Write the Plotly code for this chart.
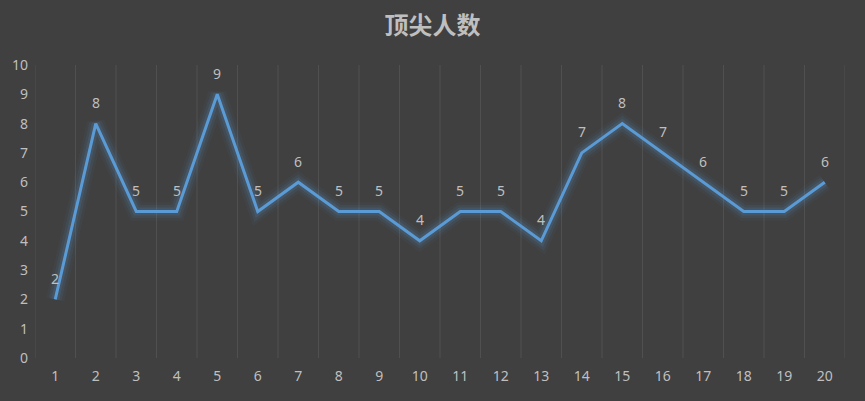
import plotly.graph_objects as go

# category labels (x axis) and values
rounds = list(range(1, 21))
top_counts = [2, 8, 5, 5, 9, 5, 6, 5, 5, 4, 5, 5, 4, 7, 8, 7, 6, 5, 5, 6]
y_ticks = list(range(0, 11))

bg = "#404040"
text_col = "#bfbfbf"
line_col = "#5b9bd5"

fig = go.Figure()

# soft glow under the line, a few wide translucent strokes
for w, a in [(18, 0.05), (13, 0.08), (8, 0.14)]:
    fig.add_trace(go.Scatter(
        x=rounds, y=top_counts, mode="lines",
        line=dict(color=f"rgba(91,155,213,{a})", width=w),
        hoverinfo="skip", showlegend=False,
    ))

fig.add_trace(go.Scatter(
    x=rounds, y=top_counts, mode="lines",
    line=dict(color=line_col, width=3),
    showlegend=False,
))

# data labels sitting a bit above each point
for r, v in zip(rounds, top_counts):
    fig.add_annotation(x=r, y=v, text=str(v), showarrow=False, yshift=21,
                       font=dict(color=text_col, size=14, family="Noto Sans"))

# vertical separators between categories
for b in range(0, 21):
    fig.add_shape(type="line", xref="x", yref="paper",
                  x0=b + 0.5, x1=b + 0.5, y0=0, y1=1,
                  line=dict(color="#505050", width=1), layer="below")

fig.update_layout(
    width=865, height=401,
    paper_bgcolor=bg, plot_bgcolor=bg,
    margin=dict(l=35, r=20, t=65, b=43),
    title=dict(text="<b>顶尖人数</b>", x=0.5, xanchor="center", y=0.935, yanchor="middle",
               font=dict(color=text_col, size=24, family="Noto Sans CJK SC")),
    font=dict(family="Noto Sans", color=text_col, size=14),
    xaxis=dict(range=[0.5, 20.5], tickvals=rounds, ticktext=[str(r) for r in rounds],
               showgrid=False, zeroline=False, showline=False, ticks="",
               ticklabelstandoff=8, tickfont=dict(color=text_col, size=14)),
    yaxis=dict(range=[0, 10], tickvals=y_ticks, showgrid=False, zeroline=False,
               showline=False, ticks="", ticklabelstandoff=6,
               tickfont=dict(color=text_col, size=14)),
)

# drop the page's default body margin so the figure fills the window
fig.write_html("out.html", config={"displayModeBar": False},
               post_script="document.body.style.margin='0';")
